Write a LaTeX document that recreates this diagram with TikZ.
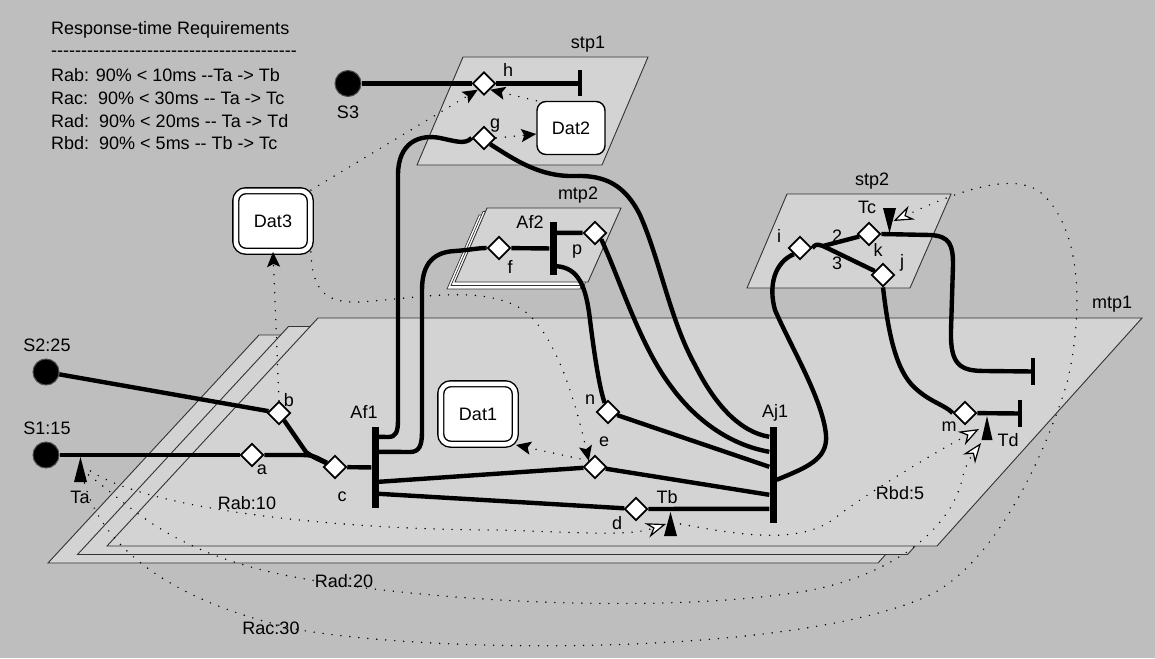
\documentclass[tikz,border=0pt]{standalone}
\usepackage{fontspec}
\setmainfont{Liberation Sans}[Ligatures=TeXOff]
\usetikzlibrary{arrows.meta,calc,shapes.geometric}
\definecolor{bg}{RGB}{190,190,190}
\definecolor{pane}{RGB}{211,211,211}
\colorlet{edge}{black!80}

\begin{document}
\begin{tikzpicture}[x=1pt,y=-1pt,font=\fontsize{18}{21}\selectfont,
  src/.style={circle,fill=black,draw=black!70,line width=1pt,minimum size=26pt,inner sep=0},
  dia/.style={diamond,draw,fill=white,line width=1.8pt,minimum width=23pt,minimum height=23pt,inner sep=0},
  bar/.style={fill=black,inner sep=0,minimum width=7pt},
  tbar/.style={fill=black,inner sep=0,minimum width=4pt,minimum height=27pt},
  store/.style={draw,fill=white,line width=1.4pt,rounded corners=9pt,minimum width=68pt,minimum height=53pt},
  store2/.style={store,double=white,double distance=4.5pt,rounded corners=10pt,minimum width=74.5pt,minimum height=60.5pt},
  plane/.style={fill=pane,draw=edge,line width=0.9pt},
  flow/.style={line width=4.4pt,line join=round},
  dots/.style={line width=1.6pt,line cap=round,dash pattern=on 0pt off 9pt},
  dat/.style={dots,-{Stealth[length=15pt,width=13pt,inset=3pt]}},
  req/.style={dots,-{Stealth[length=20pt,width=15pt,fill=white,line width=1.2pt]}},
  txt/.style={anchor=base west,inner sep=0}]

\fill[bg] (0,0) rectangle (1155,658);
\useasboundingbox (0,0) rectangle (1155,658);

% planes
\foreach \dx/\dy in {-59/17,-29.5/8.5,0/0}
  \draw[plane,shift={(\dx,\dy)}] (318,318) -- (1142,318) -- (937,546) -- (107,546) -- cycle;
\foreach \s in {8,4}
  \draw[plane,fill=white,line width=0.7pt,shift={(-\s,0.875*\s)}] (487,208) -- (621,208) -- (588,282) -- (455,282) -- cycle;
\draw[plane] (487,208) -- (621,208) -- (588,282) -- (455,282) -- cycle;
\draw[plane] (463,57) -- (648,57) -- (602,165) -- (417,165) -- cycle;
\draw[plane] (787,194) -- (951,194) -- (910,288) -- (747,288) -- cycle;
\node (lmtp1) at (1112,304) {mtp1};
\node (lmtp2) at (578,195) {mtp2};
\node (lstp1) at (588,44) {stp1};
\node (lstp2) at (872,181) {stp2};

% requirements
\node[txt] (title) at (51,35) {Response-time Requirements};
\node[txt] (rule) at (51,57) {-----------------------------------------};
\node[txt] (rab) at (51,82) {Rab: 90\% < 10ms --Ta -> Tb};
\node[txt] (rac) at (51,104.5) {Rac:\ \ 90\% < 30ms -- Ta -> Tc};
\node[txt] (rad) at (51,127) {Rad:\ \ 90\% < 20ms -- Ta -> Td};
\node[txt] (rbd) at (51,149.5) {Rbd:\ \ 90\% < 5ms -- Tb -> Tc};

% nodes
\node[src] (S3) at (348,83.5) {};
\node[src] (S2) at (46,372) {};
\node[src] (S1) at (46,455) {};
\node[dia] (h) at (484,83.5) {};
\node[dia] (g) at (484,138) {};
\node[dia] (f) at (499,248) {};
\node[dia] (p) at (595,233) {};
\node[dia] (n) at (608,412) {};
\node[dia] (e) at (595,467) {};
\node[dia] (d) at (636,509) {};
\node[dia] (a) at (252,455) {};
\node[dia] (b) at (279,413) {};
\node[dia] (c) at (335,467) {};
\node[dia] (i) at (800,248) {};
\node[dia] (k) at (869,234) {};
\node[dia] (j) at (883,275) {};
\node[dia] (m) at (965,413) {};
\node[bar,minimum height=81pt] (Af1) at (375,467.5) {};
\node[bar,minimum height=96pt] (Aj1) at (773,475) {};
\node[bar,minimum height=53pt] (Af2) at (553,248.5) {};
\node[tbar,minimum height=26pt] (hend) at (580,83.5) {};
\node[tbar] (kend) at (1033,371.5) {};
\node[tbar] (mend) at (1020,413.5) {};
\node[store] (Dat2) at (571,128) {Dat2};
\node[store2] (Dat3) at (273,221) {Dat3};
\node[store2] (Dat1) at (478,414) {Dat1};
\coordinate (Ta) at (80.5,457);
\coordinate (Tb) at (670.5,512);
\coordinate (Tc) at (889.5,233);
\coordinate (Td) at (987,416);
\coordinate (fork) at (823,246);

% data access
\draw[dat] (Dat3.north east) -- (h.south west);
\draw[dat] (Dat2.north west) -- (h.south east);
\draw[dat] (g.east) -- ([yshift=-6pt]Dat2.west);
\draw[dat] (b.north) -- (Dat3.south);
\draw[dat] (Dat3.south east) .. controls (312,295) and (330,303) .. (360,302)
  .. controls (420,298) and (480,285) .. (520,308) .. controls (555,330) and (575,400) .. (e.north west);
\draw[dat] (e.north west) -- (Dat1.south east);

% response-time paths
\draw[req] ($(Ta)+(10,14)$) .. controls (150,510) and (340,530) .. (500,530)
  .. controls (590,533) and (630,536) .. ($(Tb)+(-4.5,12)$);
\draw[req] ($(Tb)+(10,12)$) .. controls (740,535) and (800,545) .. (835,518)
  .. controls (860,498) and (930,455) .. ($(Td)+(-8,13)$);
\draw[req] ($(Ta)+(8,18)$) .. controls (130,505) and (170,555) .. (300,578)
  .. controls (420,600) and (650,615) .. (800,592) .. controls (890,578) and (950,530) .. (962,480)
  .. controls (965,465) and (972,455) .. ($(Td)+(-6,27)$);
\draw[req] ($(Ta)+(4,26)$) .. controls (100,540) and (160,600) .. (300,630)
  .. controls (450,655) and (800,655) .. (930,595) .. controls (990,565) and (1040,470) .. (1067,383)
  .. controls (1082,320) and (1085,230) .. (1040,192) .. controls (1010,170) and (950,195) .. ($(Tc)+(4,-12)$);

% flows
\draw[flow] (S3) -- (h) -- (hend);
\draw[flow] (S2) -- (b);
\draw[flow] (S1) -- (a);
\draw[flow] (a) -- (298,455) .. controls (312,455) .. (c);
\draw[flow] (b) -- (306,452) .. controls (313,457) .. (c);
\draw[flow] (c) -- (Af1);
\draw[flow] ([yshift=-10pt]Af1.north east) -- (388,437) .. controls (396,437) and (398,432) .. (398,420)
  -- (398,175) .. controls (398,142) and (420,134) .. (440,138) .. controls (455,141) and (465,145) .. (g.west);
\draw[flow] ([yshift=-25pt]Af1.north east) -- (410,452) .. controls (419,452) and (422,446) .. (422,432)
  -- (422,290) .. controls (422,262) and (435,252) .. (455,251) .. controls (470,250) and (478,248) .. (f.west);
\draw[flow] ([yshift=-55pt]Af1.north east) -- (e);
\draw[flow] ([yshift=-67pt]Af1.north east) -- (d);
\draw[flow] (f) -- (Af2);
\draw[flow] ([yshift=-11pt]Af2.north east) -- (p);
\draw[flow] ([yshift=9pt]Af2.south east) .. controls (578,268) and (586,285) .. (590,320)
  .. controls (595,360) and (600,390) .. (n);
\draw[flow] (p.south east) .. controls (620,280) and (640,345) .. (670,385)
  .. controls (695,420) and (730,445) .. ([yshift=-25pt]Aj1.north west);
\draw[flow] (g.south east) .. controls (515,160) and (540,177) .. (575,176)
  .. controls (605,175) and (625,185) .. (640,215) .. controls (660,260) and (670,320) .. (695,365)
  .. controls (715,405) and (740,432) .. ([yshift=-10pt]Aj1.north west);
\draw[flow] (n) -- ([yshift=-40pt]Aj1.north west);
\draw[flow] (e) -- ([yshift=-68pt]Aj1.north west);
\draw[flow] (d) -- ([yshift=-82pt]Aj1.north west);
\draw[flow] ([yshift=-53pt]Aj1.north east) .. controls (805,468) and (828,460) .. (826,435)
  .. controls (823,400) and (790,345) .. (775,310) .. controls (768,285) and (775,262) .. (i.south west);
\draw[flow] (i.east) .. controls (816,244) .. (fork) -- (k);
\draw[flow] (fork) -- (j);
\draw[flow] (k.east) -- (930,235) .. controls (950,236) and (953,245) .. (953,265) -- (951,330)
  .. controls (950,365) and (960,371) .. (985,371) -- (kend);
\draw[flow] (j.south) .. controls (888,330) and (895,370) .. (915,388)
  .. controls (930,402) and (945,405) .. (m.west);
\draw[flow] (m) -- (mend);

% timing marks
\fill (Ta) -- ++(-6.5,25) -- ++(13,0) -- cycle;
\fill (Tb) -- ++(-6.5,24) -- ++(13,0) -- cycle;
\fill (Tc) -- ++(-6.5,-25) -- ++(13,0) -- cycle;
\fill (Td) -- ++(-5.5,24) -- ++(11,0) -- cycle;

% labels
\node (lS3) at (348,112) {S3};
\node (lS2) at (47,345) {S2:25};
\node (lS1) at (47,428) {S1:15};
\node (lTa) at (80,497) {Ta};
\node (lh) at (508,70) {h};
\node (lg) at (495,126) {g};
\node (lAf2) at (530,222) {Af2};
\node (lf) at (510,267) {f};
\node (lp) at (577,252) {p};
\node (lTc) at (867,207) {Tc};
\node (li) at (779,236) {i};
\node (l2) at (837,236) {2};
\node (l3) at (837,263) {3};
\node (lk) at (878,250) {k};
\node (lj) at (902,263) {j};
\node (lb) at (289,400) {b};
\node (la) at (262,470) {a};
\node (lc) at (342,497) {c};
\node (lAf1) at (364,412) {Af1};
\node (ln) at (590,400) {n};
\node (le) at (604,442) {e};
\node (lAj1) at (775,413) {Aj1};
\node (ld) at (617,523) {d};
\node (lTb) at (667,497) {Tb};
\node (lm) at (949,427) {m};
\node (lTd) at (1008,440) {Td};
\node (lRab) at (247,503) {Rab:10};
\node (lRbd) at (900,493) {Rbd:5};
\node (lRad) at (344,581) {Rad:20};
\node (lRac) at (271,628) {Rac:30};
\end{tikzpicture}
\end{document}
